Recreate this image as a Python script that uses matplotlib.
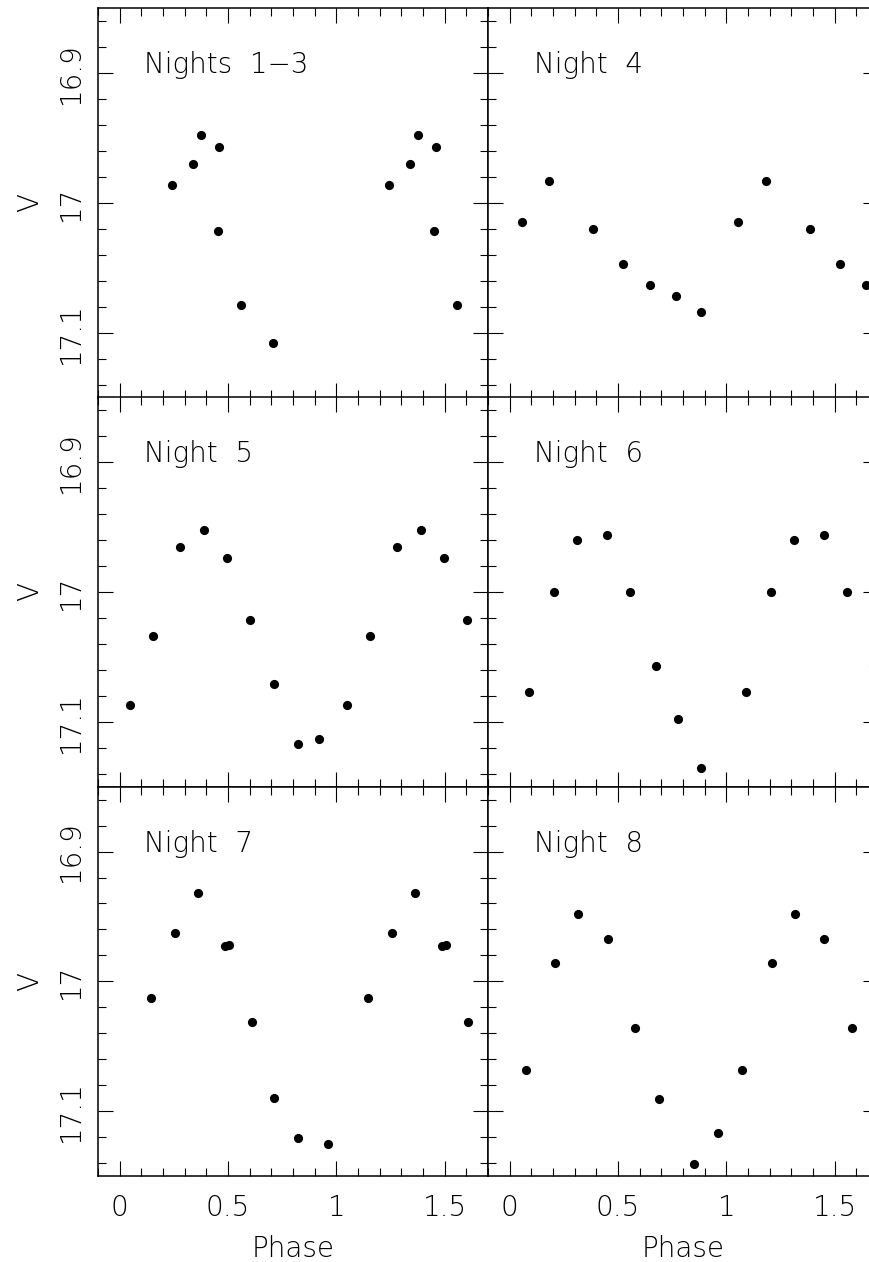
import numpy as np
import matplotlib.pyplot as plt
from matplotlib.ticker import MultipleLocator, FuncFormatter

# one cycle per night (phase, V mag); plotted again at phase + 1
phase_n13 = [0.242, 0.339, 0.376, 0.458, 0.452, 0.559, 0.708]
v_n13 = [16.986, 16.970, 16.948, 16.957, 17.022, 17.079, 17.108]

phase_n4 = [0.055, 0.183, 0.386, 0.523, 0.646, 0.766, 0.882]
v_n4 = [17.015, 16.983, 17.020, 17.047, 17.063, 17.072, 17.084]

phase_n5 = [0.049, 0.155, 0.278, 0.389, 0.495, 0.602, 0.711, 0.822, 0.922]
v_n5 = [17.087, 17.034, 16.965, 16.952, 16.974, 17.022, 17.071, 17.117, 17.113]

phase_n6 = [0.091, 0.206, 0.312, 0.449, 0.555, 0.675, 0.775, 0.885]
v_n6 = [17.077, 17.000, 16.960, 16.956, 17.000, 17.057, 17.098, 17.136]

phase_n7 = [0.146, 0.255, 0.363, 0.486, 0.505, 0.609, 0.714, 0.822, 0.962]
v_n7 = [17.013, 16.963, 16.932, 16.973, 16.972, 17.031, 17.090, 17.121, 17.125]

phase_n8 = [0.074, 0.209, 0.315, 0.452, 0.578, 0.689, 0.852, 0.962]
v_n8 = [17.068, 16.986, 16.948, 16.967, 17.036, 17.091, 17.141, 17.117]

titles = ['Nights  1\u22123', 'Night  4', 'Night  5', 'Night  6', 'Night  7', 'Night  8']
phases = [phase_n13, phase_n4, phase_n5, phase_n6, phase_n7, phase_n8]
mags = [v_n13, v_n4, v_n5, v_n6, v_n7, v_n8]

plt.rcParams['font.family'] = ['DejaVu Sans']
plt.rcParams['font.weight'] = 'light'
plt.rcParams['axes.labelweight'] = 'light'
plt.rcParams['ytick.alignment'] = 'center'

fig = plt.figure(figsize=(8.7, 12.62), dpi=100)

W, H = 870.0, 1262.0
col_x = [98.0, 488.0]
row_top = [8.3, 397.3, 786.7]
pw, ph = 390.0, 389.3
xmin, xmax = -0.1, 1.7

fmt = FuncFormatter(lambda v, pos: '%g' % v)

for i in range(6):
    r, c = divmod(i, 2)
    ax = fig.add_axes([col_x[c] / W, 1 - (row_top[r] + ph) / H, pw / W, ph / H])

    p = np.asarray(phases[i])
    m = np.asarray(mags[i])
    xx = np.concatenate([p, p + 1])
    yy = np.concatenate([m, m])
    keep = xx <= xmax  # points past the window are not drawn at all
    ax.plot(xx[keep], yy[keep], 'o', color='black', ms=6.6, mew=0)

    ax.set_xlim(xmin, xmax)
    ax.set_ylim(17.15, 16.85)

    ax.xaxis.set_major_locator(MultipleLocator(0.5))
    ax.xaxis.set_minor_locator(MultipleLocator(0.1))
    ax.yaxis.set_major_locator(MultipleLocator(0.1))
    ax.yaxis.set_minor_locator(MultipleLocator(0.02))
    ax.xaxis.set_major_formatter(fmt)
    ax.yaxis.set_major_formatter(fmt)

    ax.tick_params(which='both', direction='in', top=True, right=True,
                   width=0.8, labelsize=20, colors='black')
    ax.tick_params(which='major', length=11)
    ax.tick_params(which='minor', length=5.5)
    ax.tick_params(axis='x', pad=13)
    ax.tick_params(axis='y', pad=9.6, labelrotation=90)
    ax.tick_params(labelbottom=(r == 2), labelleft=(c == 0))

    for s in ax.spines.values():
        s.set_linewidth(1.1)

    ax.text(0.11, 16.9, titles[i], fontsize=20, ha='left', va='baseline')

    if c == 0:
        ax.set_ylabel('V', fontsize=20)
        ax.yaxis.set_label_coords(-0.137, 0.5)
    if r == 2:
        ax.set_xlabel('Phase', fontsize=20, labelpad=9)

fig.savefig('out.png', dpi=100)
